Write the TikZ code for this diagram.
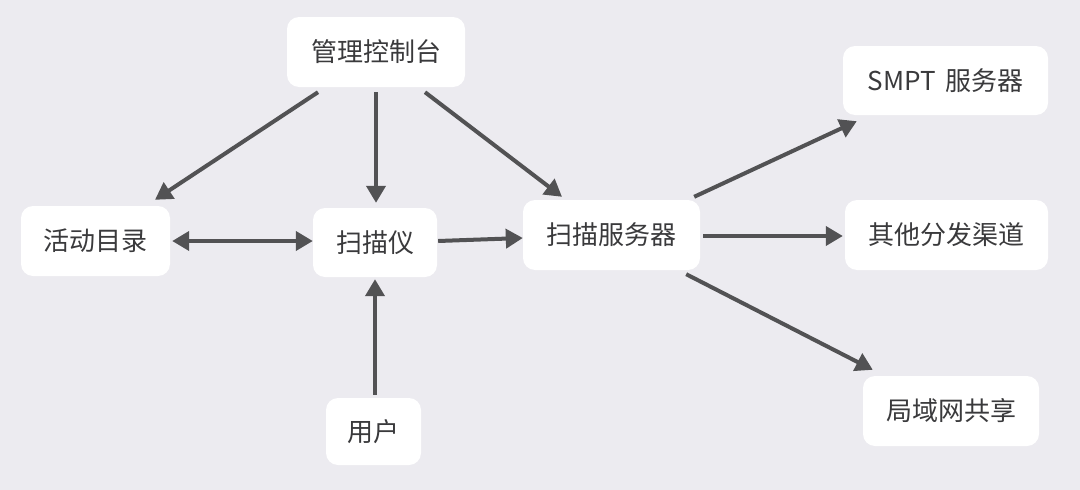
\documentclass[tikz,border=0pt]{standalone}
\usepackage{fontspec}
\setmainfont{Noto Sans CJK SC}
\usetikzlibrary{arrows.meta}
\definecolor{bgc}{RGB}{236,235,240}
\definecolor{linec}{RGB}{82,82,84}
\definecolor{txtc}{RGB}{58,58,60}
\tikzset{
  box/.style={fill=white, rounded corners=12pt, inner sep=0pt, text=txtc,
    font=\fontsize{26}{30}\selectfont},
  conn/.style={draw=linec, line width=4pt, -{Triangle[length=17pt,width=19pt]}},
  biconn/.style={draw=linec, line width=4pt, {Triangle[length=17pt,width=19pt]}-{Triangle[length=17pt,width=19pt]}}
}
\begin{document}
\begin{tikzpicture}[x=1pt,y=-1pt]
\fill[bgc] (0,0) rectangle (1080,490);
\useasboundingbox (0,0) rectangle (1080,490);
\node[box, minimum width=178pt, minimum height=70pt] (console) at (376,52) {管理控制台};
\node[box, minimum width=149pt, minimum height=70pt] (ad) at (95.5,241) {活动目录};
\node[box, minimum width=124pt, minimum height=69pt] (scanner) at (375,242.5) {扫描仪};
\node[box, minimum width=177pt, minimum height=70pt] (server) at (611.5,235) {扫描服务器};
\node[box, minimum width=205pt, minimum height=69pt] (smpt) at (945.5,80.5) {SMPT\hspace{4pt} 服务器};
\node[box, minimum width=203pt, minimum height=70pt] (other) at (946.5,235) {其他分发渠道};
\node[box, minimum width=176pt, minimum height=70pt] (lan) at (951,411) {局域网共享};
\node[box, minimum width=95pt, minimum height=67pt] (user) at (373.5,431.5) {用户};

\draw[conn] ([shift={(-58,5)}]console.south) -- ([shift={(59.5,-6)}]ad.north);
\draw[conn] ([shift={(0,5)}]console.south) -- ([shift={(1,-5)}]scanner.north);
\draw[conn] ([shift={(49,5)}]console.south) -- ([shift={(-49.5,-3)}]server.north);
\draw[biconn] ([shift={(2,0)}]ad.east) -- ([shift={(0,-1.5)}]scanner.west);
\draw[conn] ([shift={(1,-1.5)}]scanner.east) -- ([shift={(0,3)}]server.west);
\draw[conn] ([shift={(1.5,-3)}]user.north) -- ([shift={(0,2)}]scanner.south);
\draw[conn] ([shift={(-6,-3)}]server.north east) -- ([shift={(14,6)}]smpt.south west);
\draw[conn] ([shift={(3,1)}]server.east) -- ([shift={(-2,1)}]other.west);
\draw[conn] ([shift={(-14,4)}]server.south east) -- ([shift={(10,-6)}]lan.north west);
\end{tikzpicture}
\end{document}
